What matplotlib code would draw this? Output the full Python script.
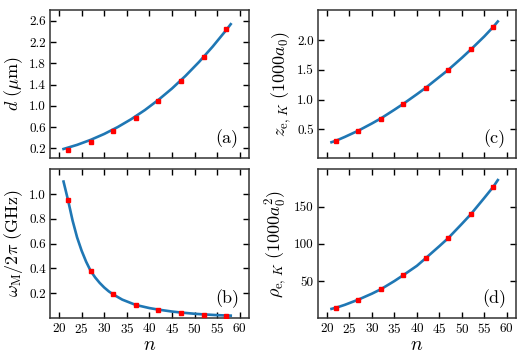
import matplotlib
matplotlib.use("Agg")
import matplotlib.pyplot as plt

plt.rcParams['font.family'] = 'serif'
plt.rcParams['font.serif'] = ['cmr10', 'DejaVu Serif']
plt.rcParams['mathtext.fontset'] = 'cm'
plt.rcParams['axes.formatter.use_mathtext'] = True
plt.rcParams['axes.unicode_minus'] = False

# sampled states (red squares)
n_pts = [22, 27, 32, 37, 42, 47, 52, 57]
d_pts = [0.17, 0.32, 0.52, 0.77, 1.09, 1.47, 1.92, 2.45]
w_pts = [0.952, 0.378, 0.192, 0.105, 0.068, 0.044, 0.028, 0.020]
z_pts = [0.31, 0.48, 0.68, 0.93, 1.20, 1.50, 1.84, 2.22]
rho_pts = [14, 25, 39, 58, 81, 108, 140, 177]

# fitted curves
n_d = [21, 24, 27, 30, 33, 36, 39, 42, 45, 48, 51, 54, 57, 58]
d_fit = [0.19, 0.267, 0.361, 0.472, 0.602, 0.751, 0.921, 1.113,
         1.326, 1.564, 1.826, 2.113, 2.424, 2.535]

n_w = [21, 22, 23, 24, 25, 26, 27, 28, 29, 30, 31, 32, 34, 37, 40,
       42, 45, 47, 50, 52, 55, 57, 58]
w_fit = [1.10, 0.95, 0.786, 0.650, 0.543, 0.454, 0.38, 0.327, 0.283,
         0.246, 0.215, 0.19, 0.148, 0.105, 0.080, 0.0675, 0.052, 0.044,
         0.034, 0.029, 0.023, 0.020, 0.019]

n_z = [21, 22, 24, 27, 30, 32, 35, 37, 40, 42, 45, 47, 50, 52, 55, 57, 58]
z_fit = [0.285, 0.31, 0.375, 0.48, 0.60, 0.685, 0.83, 0.93, 1.09, 1.20,
         1.38, 1.50, 1.70, 1.84, 2.06, 2.22, 2.31]
rho_fit = [12.5, 14, 18, 25, 33, 39, 50, 58, 70.5, 81, 97, 108, 127, 140,
           162, 177, 186]

x_ticks = [20, 25, 30, 35, 40, 45, 50, 55, 60]

line_color = '#1f77b4'
pt_color = 'red'

fig = plt.figure(figsize=(5.26, 3.63), dpi=100)
ax_a = fig.add_axes([0.095, 0.5647, 0.378, 0.409])
ax_b = fig.add_axes([0.095, 0.124, 0.378, 0.41])
ax_c = fig.add_axes([0.6046, 0.5647, 0.376, 0.409])
ax_d = fig.add_axes([0.6046, 0.124, 0.376, 0.41])

panels = [
    (ax_a, n_d, d_fit, d_pts, r'$d\ (\mu\mathrm{m})$', '(a)',
     (0.02, 2.81), [0.2, 0.6, 1.0, 1.4, 1.8, 2.2, 2.6], '{:.1f}'),
    (ax_b, n_w, w_fit, w_pts, r'$\omega_\mathrm{M}/2\pi\ (\mathrm{GHz})$', '(b)',
     (0.0, 1.2), [0.2, 0.4, 0.6, 0.8, 1.0], '{:.1f}'),
    (ax_c, n_z, z_fit, z_pts, r'$z_{\mathrm{e},\,K}\ (1000a_0)$', '(c)',
     (0.02, 2.51), [0.5, 1.0, 1.5, 2.0], '{:.1f}'),
    (ax_d, n_z, rho_fit, rho_pts, r'$\rho_{\mathrm{e},\,K}\ (1000a_0^2)$', '(d)',
     (0.2, 200.7), [50, 100, 150], '{:.0f}'),
]

for ax, nx, fit, pts, ylab, tag, ylim, yt, fmt in panels:
    ax.plot(nx, fit, color=line_color, lw=1.9, zorder=2)
    ax.plot(n_pts, pts, 's', color=pt_color, ms=3.5, zorder=3)
    ax.set_xlim(18, 62)
    ax.set_ylim(*ylim)
    ax.set_xticks(x_ticks)
    ax.set_yticks(yt)
    ax.set_yticklabels([fmt.format(v) for v in yt])
    ax.set_ylabel(ylab, fontsize=13, labelpad=3)
    ax.tick_params(direction='in', top=True, right=True, length=4,
                   width=1, labelsize=9.5, pad=3)
    for s in ax.spines.values():
        s.set_linewidth(1.1)
        s.set_color('#333333')
    ax.text(0.89, 0.13, tag, transform=ax.transAxes, fontsize=13,
            ha='center', va='center')

for ax in (ax_a, ax_c):
    ax.tick_params(labelbottom=False)
for ax in (ax_b, ax_d):
    ax.set_xlabel(r'$n$', fontsize=14, labelpad=0)

fig.savefig('out.png', dpi=100)
